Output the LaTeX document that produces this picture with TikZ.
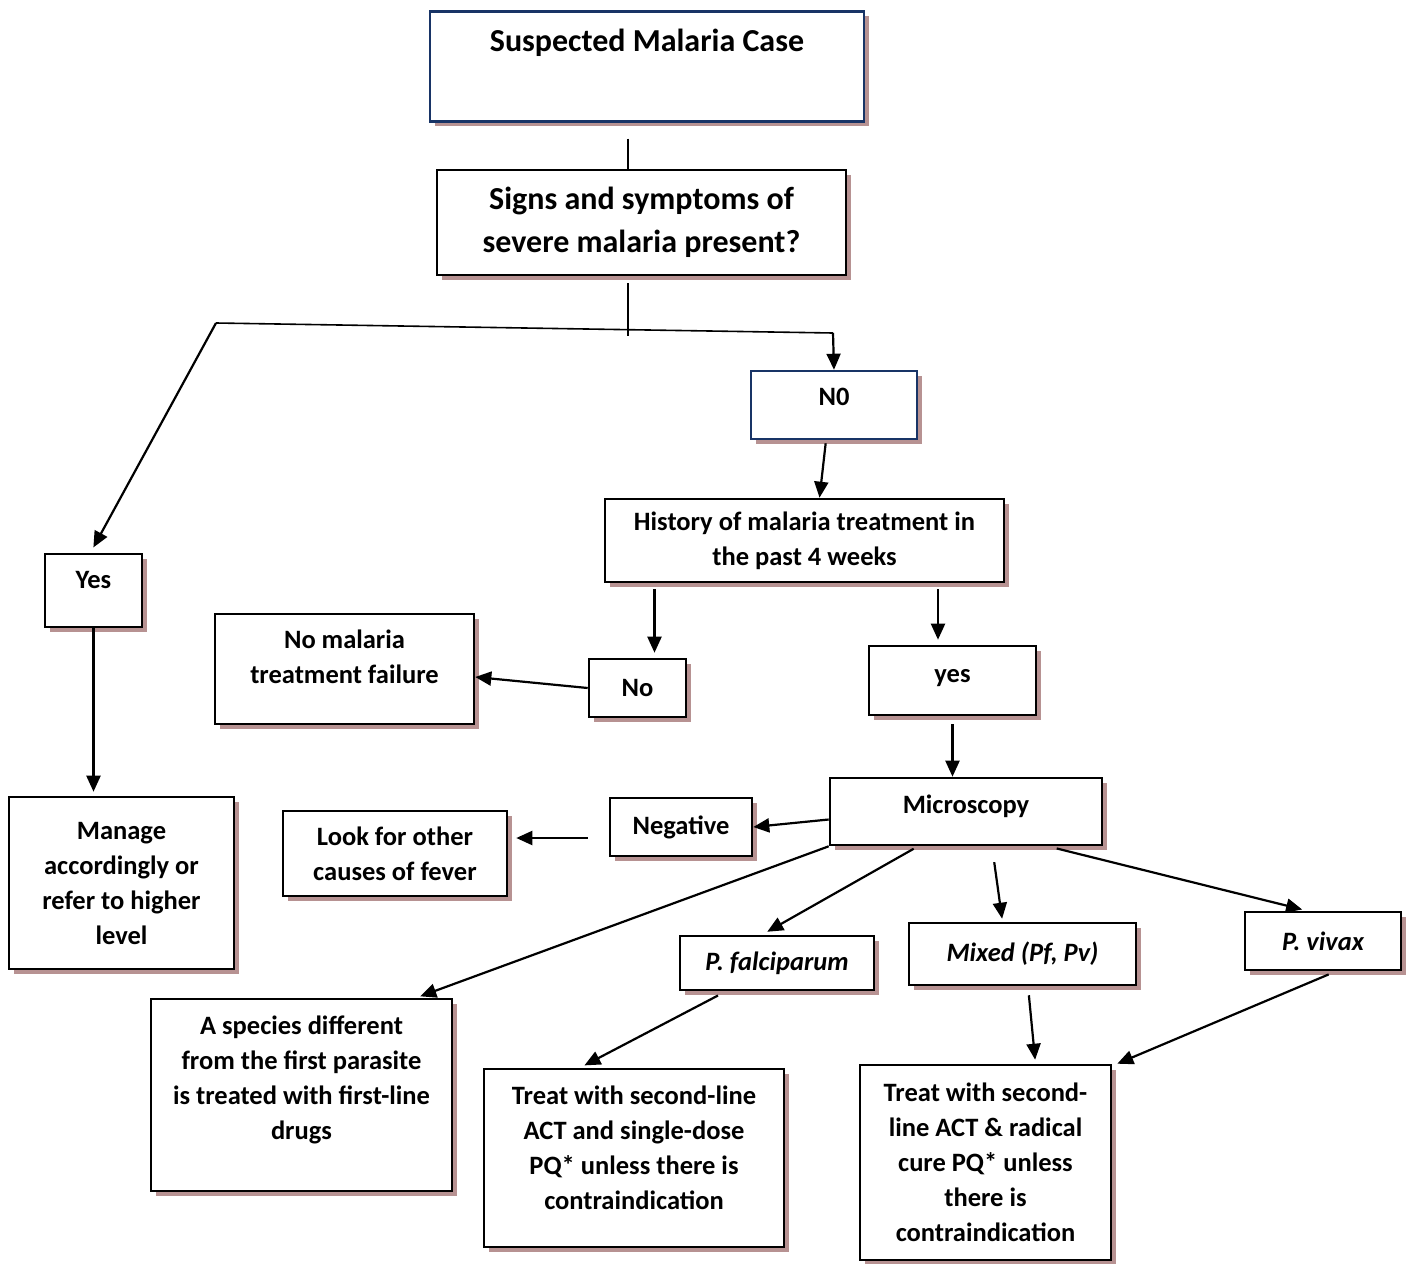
\documentclass[tikz,border=0pt]{standalone}
\usepackage{fontspec}
\setmainfont{Carlito}
\usetikzlibrary{arrows.meta,shadows}
\definecolor{shadowrose}{RGB}{183,146,146}
\definecolor{boxnavy}{RGB}{24,52,102}
\tikzset{
  flowbox/.style={draw, line width=2.6pt, fill=white, align=center,
    font=\fontsize{26.5}{35}\selectfont\bfseries, inner xsep=4pt,
    drop shadow={shadow xshift=5pt, shadow yshift=-5pt, fill=shadowrose, opacity=1}},
  bigbox/.style={flowbox, font=\fontsize{32}{43}\selectfont\bfseries},
  navybox/.style={draw=boxnavy},
  textpos/.style 2 args={text height=#1, text depth=#2, inner ysep=0pt},
  flowarrow/.style={-{Triangle[length=16pt,width=14pt]}, line width=2.2pt},
  splitline/.style={line width=1.6pt}
}
\begin{document}
\begin{tikzpicture}[x=1pt, y=-1pt]
  \useasboundingbox (0,0) rectangle (1410,1263);

  \node[bigbox, navybox, anchor=north, minimum width=434pt, textpos={40pt}{70pt}] (suspect)
    at (647,10) {Suspected Malaria Case};
  \node[bigbox, minimum width=409pt, minimum height=105pt] (signs)
    at (641.5,222.5) {Signs and symptoms of\\severe malaria present?};
  \node[flowbox, navybox, anchor=base, minimum width=166pt, textpos={34pt}{34pt}] (nzero)
    at (834,405) {N0};
  \node[flowbox, anchor=base, minimum width=97pt, textpos={34pt}{39pt}] (yes)
    at (93.5,588) {Yes};
  \node[flowbox, minimum width=399pt, minimum height=83pt] (history)
    at (804.5,540.5) {History of malaria treatment in\\the past 4 weeks};
  \node[flowbox, minimum width=97pt, minimum height=58pt] (no)
    at (637.5,688) {No};
  \node[flowbox, anchor=base, minimum width=167pt, textpos={36pt}{33pt}] (yesb)
    at (952.5,682) {yes};
  \node[flowbox, anchor=base, minimum width=259pt, textpos={69pt}{41pt}] (nofail)
    at (344.5,683) {No malaria\\treatment failure};
  \node[flowbox, minimum width=225pt, minimum height=172pt] (manage)
    at (121.5,883) {Manage\\accordingly or\\refer to higher\\level};
  \node[flowbox, anchor=base, minimum width=272pt, textpos={35pt}{32pt}] (micro)
    at (966,813) {Microscopy};
  \node[flowbox, minimum width=142pt, minimum height=58pt] (negative)
    at (681,827) {Negative};
  \node[flowbox, minimum width=224pt, minimum height=85pt] (look)
    at (395,853.5) {Look for other\\causes of fever};
  \node[flowbox, minimum width=194pt, minimum height=54pt] (pf)
    at (777,963) {\itshape P. falciparum};
  \node[flowbox, minimum width=227pt, minimum height=62pt] (mixed)
    at (1022.5,954) {\itshape Mixed (Pf, Pv)};
  \node[flowbox, minimum width=156pt, minimum height=58pt] (vivax)
    at (1323,941) {\itshape P. vivax};
  \node[flowbox, anchor=base, minimum width=301pt, textpos={140pt}{52pt}] (species)
    at (301.5,1139) {A species different\\from the first parasite\\is treated with first-line\\drugs};
  \node[flowbox, anchor=base, minimum width=300pt, textpos={140pt}{38pt}] (treat1)
    at (634,1209) {Treat with second-line\\ACT and single-dose\\PQ* unless there is\\contraindication};
  \node[flowbox, minimum width=251pt, minimum height=195pt] (treat2)
    at (985.5,1162.5) {Treat with second-\\line ACT \& radical\\cure PQ* unless\\there is\\contraindication};

  \coordinate (splitL) at (216,323);
  \coordinate (splitR) at (833,333);

  \draw[splitline] ([xshift=-19pt, yshift=-16pt]suspect.south) -- ([xshift=-13.5pt]signs.north);
  \draw[splitline] ([xshift=-13.5pt, yshift=-7pt]signs.south) -- ++(0,53);
  \draw[splitline] (splitL) -- (splitR);
  \draw[flowarrow] (splitR) -- (nzero.north);
  \draw[flowarrow, shorten >=6pt] (splitL) -- ([xshift=-3pt]yes.north);
  \draw[flowarrow, shorten <=3pt] ([xshift=-8pt]nzero.south) -- ([xshift=15pt]history.north);
  \draw[flowarrow, shorten <=6pt, shorten >=5pt] ([xshift=-150pt]history.south)
    -- ([xshift=-150pt]history.south |- no.north);
  \draw[flowarrow, shorten <=6pt, shorten >=5pt] ([xshift=133.5pt]history.south)
    -- ([xshift=133.5pt]history.south |- yesb.north);
  \draw[flowarrow] (no.west) -- ([yshift=-8pt]nofail.east);
  \draw[flowarrow, shorten >=4pt] (yes.south) -- (yes.south |- manage.north);
  \draw[flowarrow, shorten <=8pt] (yesb.south) -- (yesb.south |- micro.north);
  \draw[flowarrow] ([yshift=-8pt]micro.west) -- (negative.east);
  \draw[flowarrow, shorten <=21pt, shorten >=8pt] ([yshift=-11pt]negative.west)
    -- ([yshift=-11pt]negative.west -| look.east);
  \draw[flowarrow, shorten >=4pt] (micro.south west) -- ([xshift=115pt]species.north);
  \draw[flowarrow, shorten <=5pt, shorten >=6pt] ([xshift=-48pt]micro.south) -- ([xshift=-15pt]pf.north);
  \draw[flowarrow, shorten <=16pt, shorten >=3pt] ([xshift=26pt]micro.south) -- ([xshift=-20pt]mixed.north);
  \draw[flowarrow, shorten <=9pt, shorten >=5pt] ([xshift=82pt]micro.south) -- ([xshift=-16pt]vivax.north);
  \draw[flowarrow, shorten <=9pt, shorten >=5pt] ([xshift=-51pt]pf.south) -- ([xshift=-54pt]treat1.north);
  \draw[flowarrow, shorten <=9pt, shorten >=4pt] ([xshift=5.5pt]mixed.south) -- ([xshift=50pt]treat2.north);
  \draw[flowarrow, shorten <=8pt] ([xshift=13pt]vivax.south) -- ([xshift=5pt]treat2.north east);
\end{tikzpicture}
\end{document}
